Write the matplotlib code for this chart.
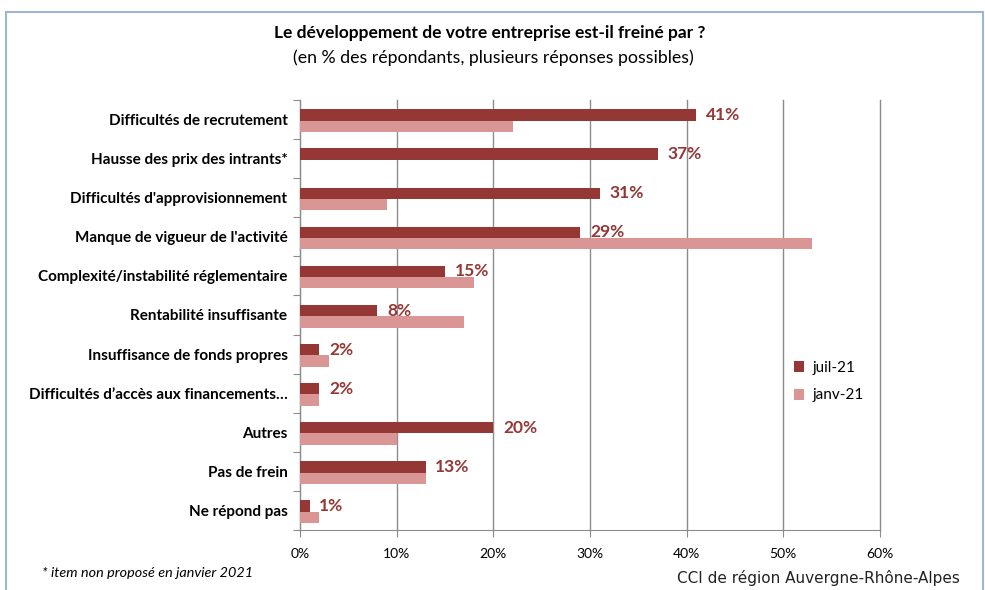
import matplotlib
matplotlib.use("Agg")
import matplotlib.pyplot as plt
from matplotlib.patches import Rectangle
import numpy as np

categories = [
    "Difficultés de recrutement",
    "Hausse des prix des intrants*",
    "Difficultés d'approvisionnement",
    "Manque de vigueur de l'activité",
    "Complexité/instabilité réglementaire",
    "Rentabilité insuffisante",
    "Insuffisance de fonds propres",
    "Difficultés d’accès aux financements…",
    "Autres",
    "Pas de frein",
    "Ne répond pas",
]
juil_21 = [41, 37, 31, 29, 15, 8, 2, 2, 20, 13, 1]
janv_21 = [22, 0, 9, 53, 18, 17, 3, 2, 10, 13, 2]
x_ticks = [0, 10, 20, 30, 40, 50, 60]

dark = "#953735"
light = "#d99694"
grid_c = "#8c8c8c"

plt.rcParams["font.family"] = ["Lato", "DejaVu Sans"]

fig = plt.figure(figsize=(9.85, 5.9), dpi=100)
ax = fig.add_axes([300 / 985, 1 - 530 / 590, 580 / 985, 430 / 590])

y = np.arange(len(categories))
h = 0.29
ax.barh(y - h / 2 + 0.03, juil_21, height=h, color=dark, label="juil-21", zorder=3)
ax.barh(y + h / 2 + 0.03, janv_21, height=h, color=light, label="janv-21", zorder=3)

for yi, v in zip(y, juil_21):
    ax.text(v + 1.0, yi - h / 2 + 0.03, f"{v}%", color=dark, fontsize=12.5,
            fontweight="bold", va="center", ha="left", zorder=4)

ax.set_xlim(0, 60)
ax.set_ylim(len(categories) - 0.5, -0.5)
ax.set_xticks(x_ticks)
ax.set_xticklabels([f"{t}%" for t in x_ticks], fontsize=10)
ax.set_yticks(np.arange(len(categories) + 1) - 0.5, minor=False)
ax.set_yticklabels([])
ax.set_yticks(y, minor=True)
ax.set_yticklabels(categories, minor=True, fontsize=11, fontweight="bold")
ax.tick_params(axis="y", which="minor", length=0, pad=9)
ax.tick_params(axis="y", which="major", length=5, color=grid_c)
ax.tick_params(axis="x", length=5, color=grid_c, pad=8)
ax.grid(axis="x", color=grid_c, linewidth=1, zorder=0)
for gl in ax.get_xgridlines():
    gl.set_clip_on(False)

for side in ["top", "right"]:
    ax.spines[side].set_visible(False)
for side in ["left", "bottom"]:
    ax.spines[side].set_color(grid_c)

ax.legend(loc="upper left", bbox_to_anchor=(780 / 985, 1 - 347 / 590),
          bbox_transform=fig.transFigure, frameon=False, fontsize=11,
          handlelength=0.7, handleheight=0.7, handletextpad=0.5, labelspacing=0.9)

fig.text(490 / 985, 1 - 33 / 590, "Le développement de votre entreprise est-il freiné par ?",
         ha="center", va="center", fontsize=12.5, fontweight="bold")
fig.text(493 / 985, 1 - 58 / 590, "(en % des répondants, plusieurs réponses possibles)",
         ha="center", va="center", fontsize=12.8)
fig.text(42 / 985, 1 - 573 / 590, "* item non proposé en janvier 2021",
         ha="left", va="center", fontsize=10.4, style="italic")
fig.text(960 / 985, 1 - 578 / 590, "CCI de région Auvergne-Rhône-Alpes",
         ha="right", va="center", fontsize=11, family="DejaVu Sans", color="#222222")

fig.patches.append(Rectangle((6 / 985, -0.05), 977 / 985, 1 - 12 / 590 + 0.05,
                             transform=fig.transFigure, fill=False,
                             edgecolor="#9bb7d4", linewidth=1.5))

fig.savefig("out.png", dpi=100)
